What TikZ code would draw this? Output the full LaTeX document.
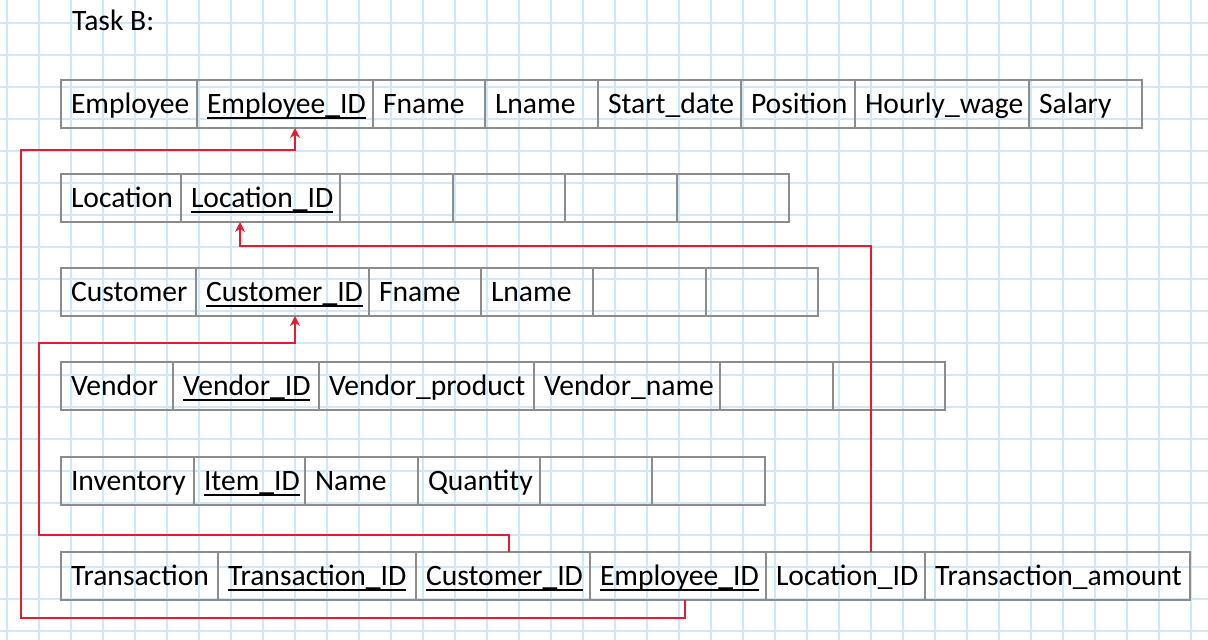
\documentclass[tikz,border=0pt]{standalone}
\usepackage{fontspec}
\setmainfont{Carlito}
\usetikzlibrary{
  positioning,
  arrows.meta
}
\hyphenpenalty=10000
\exhyphenpenalty=10000
\definecolor{gridblue}{RGB}{204,232,250}
\definecolor{fkred}{RGB}{228,28,48}
\colorlet{cellline}{black!45}
% key attribute: underline at a fixed depth
\newcommand\pkey[1]{\setbox0\hbox{#1}\rlap{\vrule width\wd0 height -3.5pt depth 5.7pt}\box0}
\tikzset{
  grid line/.style={gridblue,line width=2pt},
  cell/.style={draw=cellline,line width=1.6pt,outer sep=0pt,
    inner xsep=10pt,inner ysep=0pt,minimum height=48pt,
    text height=23pt,text depth=5pt,align=left,
    text width=#1pt-20pt,font=\fontsize{29.6}{34}\selectfont},
  foreign key/.style={draw=fkred,line width=2.2pt,-{Stealth[length=10pt,width=10pt]}},
}

\begin{document}
\begin{tikzpicture}[x=1pt,y=-1pt]
\fill[white] (0,0) rectangle (1208,640);
\useasboundingbox (0,0) rectangle (1208,640);
\foreach \gx in {0,...,37} \draw[grid line] (7+32*\gx,0) -- (7+32*\gx,640);
\foreach \gy in {0,...,19} \draw[grid line] (0,22.7+32*\gy) -- (1208,22.7+32*\gy);

\node[font=\fontsize{29.6}{34}\selectfont,inner sep=0pt,anchor=base west] (task) at (72,30.5) {Task B:};

% Employee
\node[cell=136,anchor=north west] (emp) at (61,80) {Employee};
\node[cell=176,right=0pt of emp] (emp-id) {\pkey{Employee\_ID}};
\node[cell=112,right=0pt of emp-id] (emp-fname) {Fname};
\node[cell=113,right=0pt of emp-fname] (emp-lname) {Lname};
\node[cell=143,right=0pt of emp-lname] (emp-start) {Start\_date};
\node[cell=114,right=0pt of emp-start] (emp-pos) {Position};
\node[cell=174,right=0pt of emp-pos] (emp-wage) {Hourly\_wage};
\node[cell=113,right=0pt of emp-wage] (emp-salary) {Salary};

% Location
\node[cell=120,anchor=north west] (loc) at (61,174) {Location};
\node[cell=159,right=0pt of loc] (loc-id) {\pkey{Location\_ID}};
\node[cell=113,right=0pt of loc-id] (loc-c3) {};
\node[cell=112,right=0pt of loc-c3] (loc-c4) {};
\node[cell=112,right=0pt of loc-c4] (loc-c5) {};
\node[cell=112,right=0pt of loc-c5] (loc-c6) {};

% Customer
\node[cell=135,anchor=north west] (cust) at (61,268) {Customer};
\node[cell=173,right=0pt of cust] (cust-id) {\pkey{Customer\_ID}};
\node[cell=112,right=0pt of cust-id] (cust-fname) {Fname};
\node[cell=112,right=0pt of cust-fname] (cust-lname) {Lname};
\node[cell=113,right=0pt of cust-lname] (cust-c5) {};
\node[cell=112,right=0pt of cust-c5] (cust-c6) {};

% Vendor
\node[cell=112,anchor=north west] (vend) at (61,362) {Vendor};
\node[cell=146,right=0pt of vend] (vend-id) {\pkey{Vendor\_ID}};
\node[cell=215,right=0pt of vend-id] (vend-product) {Vendor\_product};
\node[cell=186,right=0pt of vend-product] (vend-name) {Vendor\_name};
\node[cell=113,right=0pt of vend-name] (vend-c5) {};
\node[cell=112,right=0pt of vend-c5] (vend-c6) {};

% Inventory
\node[cell=133,anchor=north west] (inv) at (61,457) {Inventory};
\node[cell=111,right=0pt of inv] (inv-id) {\pkey{Item\_ID}};
\node[cell=113,right=0pt of inv-id] (inv-name) {Name};
\node[cell=122,right=0pt of inv-name] (inv-qty) {Quantity};
\node[cell=112,right=0pt of inv-qty] (inv-c5) {};
\node[cell=113,right=0pt of inv-c5] (inv-c6) {};

% Transaction
\node[cell=157,anchor=north west] (trans) at (61,552) {Transaction};
\node[cell=198,right=0pt of trans] (trans-id) {\pkey{Transaction\_ID}};
\node[cell=174,right=0pt of trans-id] (trans-cust) {\pkey{Customer\_ID}};
\node[cell=176,right=0pt of trans-cust] (trans-emp) {\pkey{Employee\_ID}};
\node[cell=159,right=0pt of trans-emp] (trans-loc) {Location\_ID};
\node[cell=265,right=0pt of trans-loc] (trans-amount) {Transaction\_amount};

% foreign keys
\coordinate (emp-low) at (21,618);
\coordinate (emp-high) at (21,150);
\coordinate (cust-low) at (39,535);
\coordinate (cust-high) at (39,343);
\coordinate (loc-bend) at (240,246);
\draw[foreign key] ([xshift=7pt]trans-emp.south) |- (emp-low) -- (emp-high) -| ([xshift=10pt]emp-id.south);
\draw[foreign key] ([xshift=6pt]trans-cust.north) |- (cust-low) -- (cust-high) -| ([xshift=12.5pt]cust-id.south);
\draw[foreign key] ([xshift=25.5pt]trans-loc.north) |- (loc-bend) -| ([xshift=-20.5pt]loc-id.south);
\end{tikzpicture}
\end{document}
